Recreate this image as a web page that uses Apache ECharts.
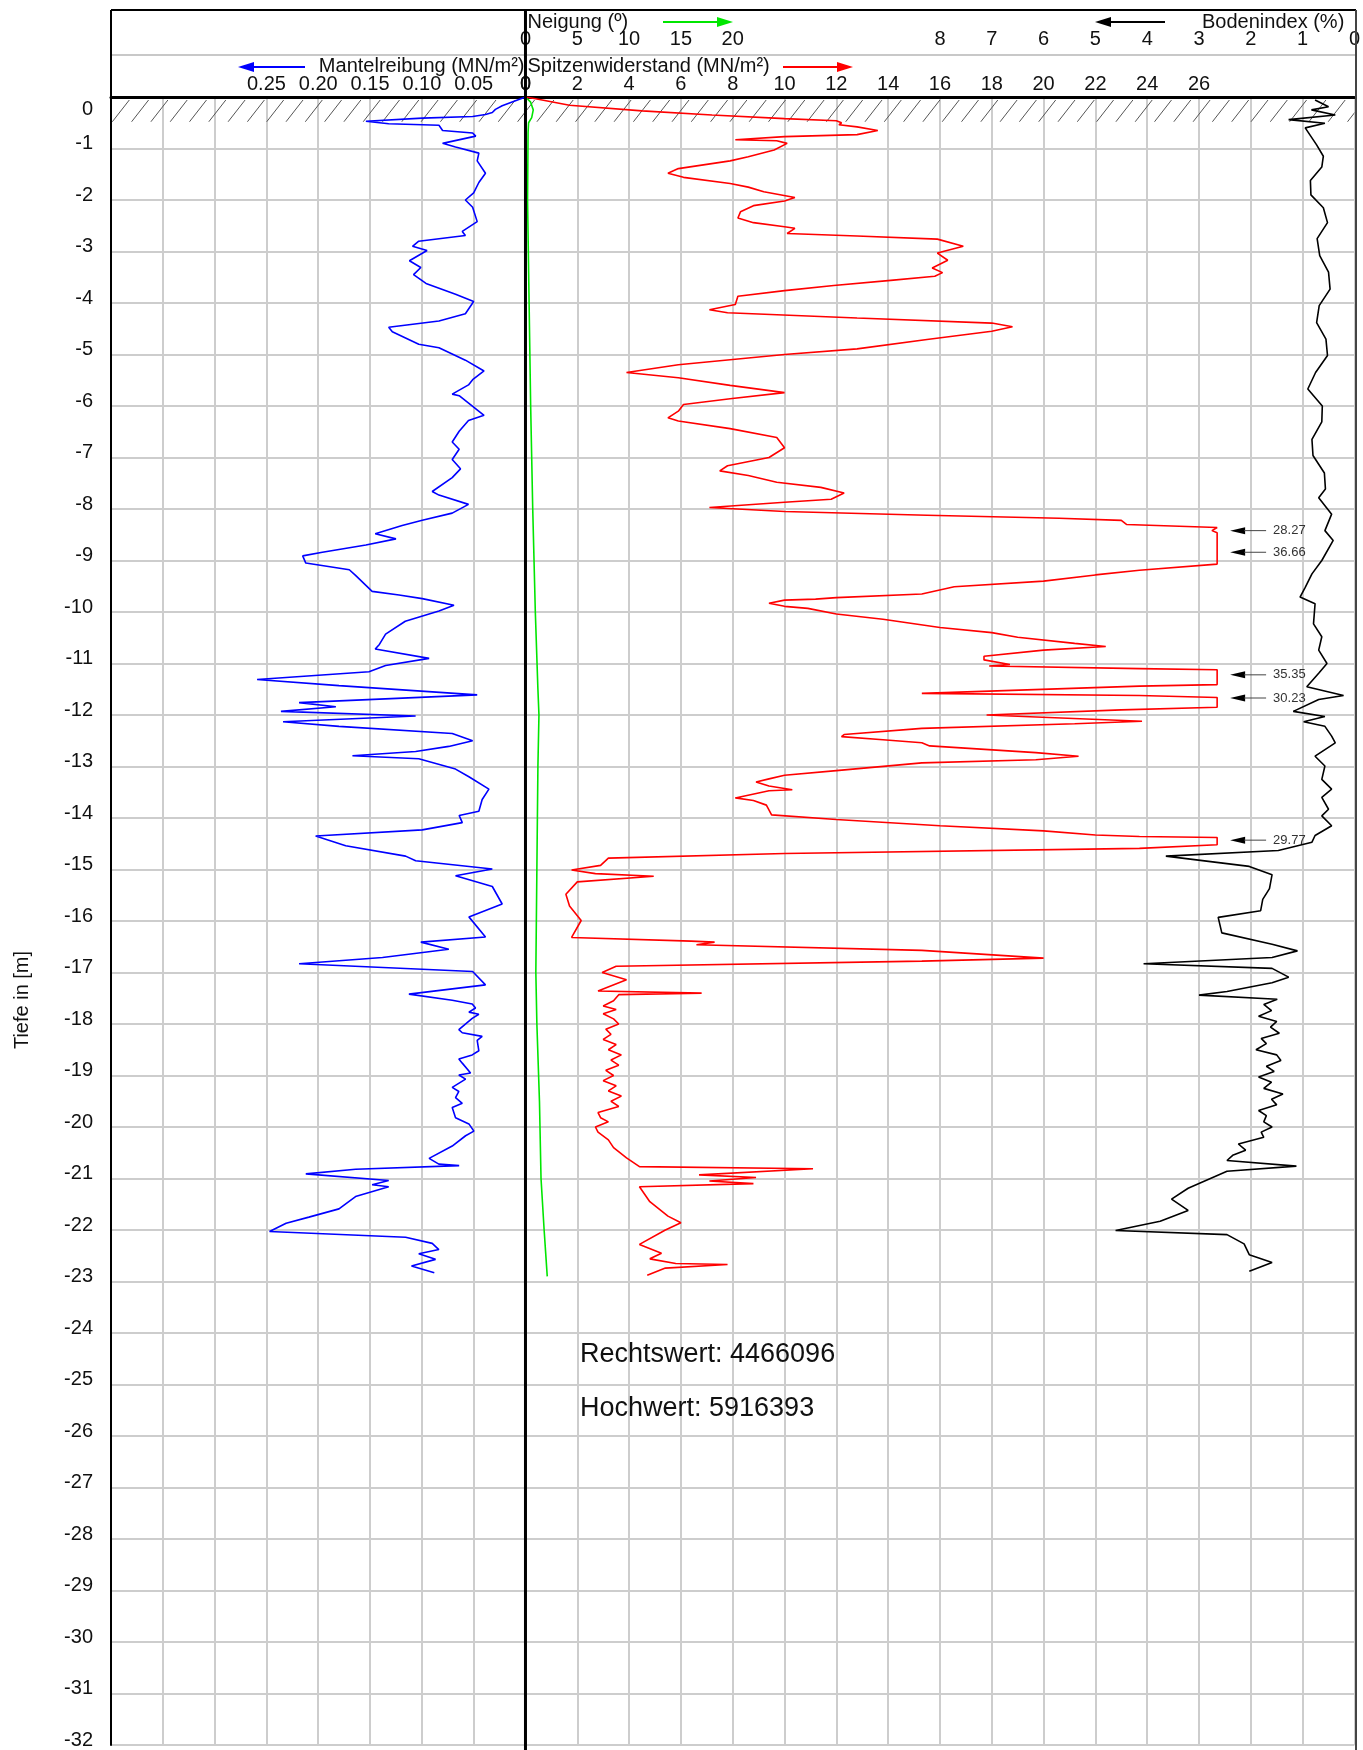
<!DOCTYPE html>
<html><head><meta charset="utf-8">
<script src="https://cdn.jsdelivr.net/npm/echarts@6/dist/echarts.min.js"></script>
<style>html,body{margin:0;padding:0;background:#fff;overflow:hidden}#c{width:1363px;height:1750px}</style>
</head><body><div id="c"></div>
<script>
// ---- data: [depth (m), value] ----
const spitzenwiderstand = [[0,0],[-0.03,0.34],[-0.16,1.7],[-0.27,4.5],[-0.35,7.2],[-0.42,10.0],[-0.46,12.0],[-0.5,12.2],[-0.54,12.1],[-0.58,12.8],[-0.65,13.6],[-0.73,12.8],[-0.77,10.0],[-0.83,8.1],[-0.85,9.7],[-0.9,10.1],[-1.03,9.6],[-1.16,8.6],[-1.24,7.9],[-1.39,5.9],[-1.48,5.5],[-1.56,6.1],[-1.68,7.9],[-1.75,8.6],[-1.84,9.2],[-1.95,10.4],[-2.02,10.0],[-2.11,8.8],[-2.23,8.3],[-2.35,8.2],[-2.44,8.8],[-2.52,10.0],[-2.55,10.4],[-2.65,10.1],[-2.7,12.8],[-2.76,15.9],[-2.9,16.9],[-3.03,15.9],[-3.17,16.3],[-3.32,15.7],[-3.41,16.1],[-3.48,15.8],[-3.56,14.1],[-3.66,11.9],[-3.76,10.0],[-3.87,8.2],[-4.03,8.1],[-4.13,7.1],[-4.19,7.8],[-4.29,12.8],[-4.39,18.0],[-4.46,18.8],[-4.55,18.0],[-4.71,15.5],[-4.89,12.8],[-5.0,10.0],[-5.2,5.9],[-5.35,3.9],[-5.45,5.9],[-5.6,7.9],[-5.74,10.0],[-5.86,7.9],[-5.97,6.1],[-6.1,5.9],[-6.23,5.5],[-6.29,5.9],[-6.44,7.9],[-6.61,9.7],[-6.81,10.0],[-7.0,9.4],[-7.16,7.8],[-7.26,7.5],[-7.35,8.6],[-7.48,9.7],[-7.58,11.4],[-7.69,12.3],[-7.81,11.8],[-7.87,10.0],[-7.97,7.1],[-8.05,10.0],[-8.12,15.5],[-8.18,20.6],[-8.22,23.0],[-8.3,23.2],[-8.36,26.7],[-8.42,26.5],[-8.46,26.7],[-9.07,26.7],[-9.19,23.7],[-9.28,22.0],[-9.4,20.0],[-9.51,16.55],[-9.65,15.3],[-9.72,12.0],[-9.75,11.2],[-9.77,10.0],[-9.83,9.4],[-9.89,10.0],[-9.93,10.9],[-10.04,12.0],[-10.14,13.8],[-10.3,16.0],[-10.4,18.0],[-10.49,19.0],[-10.61,21.2],[-10.67,22.4],[-10.74,20.0],[-10.86,17.7],[-10.93,17.7],[-11.02,18.7],[-11.05,17.9],[-11.1,23.7],[-11.12,26.7],[-11.41,26.7],[-11.44,23.7],[-11.58,15.3],[-11.62,23.7],[-11.66,26.7],[-11.85,26.7],[-11.9,23.0],[-12.0,17.8],[-12.12,23.8],[-12.17,21.2],[-12.26,15.3],[-12.38,12.3],[-12.42,12.2],[-12.48,13.8],[-12.54,15.3],[-12.6,15.6],[-12.73,19.7],[-12.8,21.35],[-12.87,19.7],[-12.93,15.3],[-13.08,12.0],[-13.17,10.0],[-13.24,9.4],[-13.3,8.9],[-13.38,9.4],[-13.45,10.3],[-13.47,9.4],[-13.61,8.1],[-13.66,8.8],[-13.75,9.3],[-13.94,9.5],[-14.03,12.0],[-14.15,16.0],[-14.25,20.0],[-14.33,22.0],[-14.36,23.7],[-14.38,26.7],[-14.52,26.7],[-14.59,23.7],[-14.69,10.0],[-14.78,3.2],[-14.92,2.9],[-15.01,1.78],[-15.08,2.7],[-15.13,4.95],[-15.24,2.0],[-15.48,1.56],[-15.71,1.7],[-15.99,2.15],[-16.32,1.78],[-16.39,6.4],[-16.41,7.3],[-16.46,6.6],[-16.57,15.3],[-16.72,20.0],[-16.78,15.3],[-16.88,3.5],[-17.0,2.96],[-17.14,3.9],[-17.36,2.8],[-17.4,6.8],[-17.43,3.6],[-17.55,3.4],[-17.65,3.0],[-17.72,3.5],[-17.8,3.0],[-17.9,3.4],[-18.0,3.6],[-18.1,3.1],[-18.2,3.3],[-18.3,3.0],[-18.4,3.5],[-18.5,3.2],[-18.6,3.7],[-18.7,3.3],[-18.8,3.6],[-18.9,3.1],[-19.0,3.4],[-19.1,3.0],[-19.2,3.5],[-19.3,3.2],[-19.4,3.7],[-19.5,3.3],[-19.6,3.6],[-19.72,2.8],[-19.82,2.9],[-19.9,3.2],[-20.0,2.7],[-20.1,2.8],[-20.25,3.2],[-20.4,3.4],[-20.6,3.9],[-20.77,4.4],[-20.81,11.1],[-20.93,6.7],[-20.98,8.9],[-21.05,7.1],[-21.1,8.8],[-21.16,4.4],[-21.45,4.8],[-21.73,5.5],[-21.86,6.0],[-22.0,5.4],[-22.28,4.4],[-22.45,5.25],[-22.56,4.8],[-22.65,5.8],[-22.67,7.8],[-22.74,5.4],[-22.88,4.7]];

const mantelreibung = [[0,0],[-0.17,0.0225],[-0.24,0.029],[-0.3,0.032],[-0.34,0.0386],[-0.38,0.051],[-0.41,0.0996],[-0.47,0.154],[-0.52,0.132],[-0.55,0.0835],[-0.65,0.08],[-0.7,0.051],[-0.76,0.048],[-0.9,0.08],[-0.97,0.0675],[-1.09,0.045],[-1.24,0.0466],[-1.48,0.0386],[-1.66,0.045],[-1.86,0.05],[-2.0,0.058],[-2.14,0.051],[-2.42,0.0466],[-2.61,0.061],[-2.69,0.058],[-2.8,0.103],[-2.9,0.109],[-2.98,0.095],[-3.18,0.112],[-3.31,0.101],[-3.45,0.108],[-3.62,0.096],[-3.83,0.0675],[-3.97,0.05],[-4.21,0.058],[-4.35,0.0835],[-4.47,0.132],[-4.56,0.1285],[-4.8,0.103],[-4.87,0.0835],[-5.11,0.058],[-5.32,0.04],[-5.49,0.051],[-5.59,0.055],[-5.77,0.0707],[-5.8,0.064],[-6.18,0.04],[-6.28,0.055],[-6.49,0.064],[-6.7,0.0707],[-6.84,0.064],[-7.04,0.0707],[-7.22,0.0627],[-7.39,0.0707],[-7.66,0.09],[-7.73,0.0835],[-7.91,0.055],[-8.08,0.0707],[-8.22,0.0996],[-8.32,0.119],[-8.48,0.145],[-8.58,0.125],[-8.7,0.154],[-8.84,0.196],[-8.91,0.215],[-9.05,0.212],[-9.18,0.17],[-9.29,0.164],[-9.6,0.148],[-9.67,0.122],[-9.74,0.0996],[-9.87,0.069],[-9.98,0.0835],[-10.18,0.116],[-10.43,0.135],[-10.63,0.141],[-10.72,0.145],[-10.9,0.093],[-11.04,0.135],[-11.16,0.151],[-11.31,0.259],[-11.43,0.18],[-11.61,0.0466],[-11.76,0.2185],[-11.84,0.183],[-11.93,0.236],[-12.02,0.106],[-12.13,0.234],[-12.22,0.18],[-12.36,0.0707],[-12.5,0.051],[-12.61,0.074],[-12.71,0.106],[-12.79,0.167],[-12.85,0.103],[-13.05,0.0675],[-13.2,0.0546],[-13.44,0.0353],[-13.64,0.0418],[-13.87,0.045],[-13.95,0.064],[-14.09,0.061],[-14.23,0.0996],[-14.35,0.2025],[-14.54,0.1735],[-14.74,0.1157],[-14.83,0.106],[-14.99,0.032],[-15.12,0.0675],[-15.33,0.032],[-15.67,0.0225],[-15.92,0.0546],[-16.31,0.0386],[-16.41,0.101],[-16.55,0.074],[-16.71,0.138],[-16.83,0.2185],[-16.98,0.051],[-17.24,0.0386],[-17.42,0.1125],[-17.54,0.0707],[-17.61,0.0514],[-17.69,0.0482],[-17.77,0.0546],[-17.81,0.045],[-17.89,0.0514],[-18.11,0.0643],[-18.17,0.061],[-18.24,0.0418],[-18.32,0.0466],[-18.52,0.045],[-18.6,0.0514],[-18.68,0.0643],[-18.76,0.061],[-18.95,0.053],[-18.99,0.0643],[-19.07,0.0578],[-19.23,0.0707],[-19.31,0.0643],[-19.43,0.0675],[-19.54,0.061],[-19.62,0.0707],[-19.82,0.0675],[-19.94,0.0546],[-20.08,0.0498],[-20.17,0.0578],[-20.37,0.0707],[-20.61,0.093],[-20.72,0.0836],[-20.75,0.064],[-20.82,0.164],[-20.91,0.212],[-21.04,0.132],[-21.12,0.148],[-21.16,0.132],[-21.35,0.164],[-21.59,0.18],[-21.75,0.209],[-21.87,0.231],[-22.03,0.247],[-22.14,0.1157],[-22.26,0.09],[-22.38,0.0836],[-22.46,0.103],[-22.57,0.0868],[-22.7,0.11],[-22.83,0.088]];

const neigung = [[0,0],[-0.1,0.5],[-0.25,0.75],[-0.4,0.6],[-0.5,0.3],[-0.7,0.25],[-2,0.2],[-4,0.35],[-6,0.5],[-8,0.7],[-10,0.95],[-11.5,1.2],[-12,1.3],[-13,1.2],[-15,1.1],[-17,1.0],[-18,1.1],[-19.5,1.35],[-21,1.5],[-22,1.8],[-22.9,2.1]];

const bodenindex = [[-0.06,0.76],[-0.19,0.5],[-0.25,0.83],[-0.35,0.37],[-0.44,1.27],[-0.51,0.57],[-0.6,0.95],[-0.93,0.73],[-1.15,0.6],[-1.36,0.63],[-1.62,0.85],[-1.9,0.84],[-2.15,0.6],[-2.44,0.52],[-2.75,0.72],[-3.08,0.67],[-3.4,0.5],[-3.73,0.47],[-4.05,0.68],[-4.38,0.73],[-4.7,0.55],[-5.02,0.52],[-5.35,0.75],[-5.67,0.9],[-6.0,0.62],[-6.31,0.63],[-6.65,0.82],[-6.96,0.8],[-7.3,0.58],[-7.61,0.56],[-7.78,0.69],[-8.1,0.44],[-8.42,0.57],[-8.61,0.41],[-9.0,0.63],[-9.26,0.82],[-9.52,0.95],[-9.71,1.05],[-9.84,0.76],[-10.23,0.79],[-10.48,0.63],[-10.74,0.69],[-11.0,0.53],[-11.19,0.69],[-11.45,0.92],[-11.62,0.21],[-11.7,0.69],[-11.93,1.18],[-12.03,0.57],[-12.13,0.98],[-12.22,0.57],[-12.41,0.44],[-12.54,0.37],[-12.8,0.76],[-12.99,0.57],[-13.25,0.63],[-13.44,0.44],[-13.6,0.63],[-13.83,0.5],[-13.96,0.63],[-14.15,0.44],[-14.34,0.76],[-14.47,0.82],[-14.63,1.47],[-14.74,3.64],[-14.94,2.03],[-15.1,1.59],[-15.37,1.64],[-15.58,1.77],[-15.8,1.81],[-15.93,2.63],[-16.23,2.56],[-16.45,1.59],[-16.58,1.1],[-16.71,1.59],[-16.83,4.07],[-16.92,1.59],[-17.09,1.27],[-17.2,1.59],[-17.37,2.46],[-17.44,3.0],[-17.52,1.49],[-17.62,1.75],[-17.74,1.6],[-17.85,1.85],[-17.95,1.5],[-18.06,1.62],[-18.18,1.45],[-18.28,1.8],[-18.38,1.7],[-18.5,1.9],[-18.6,1.5],[-18.71,1.42],[-18.82,1.7],[-18.92,1.55],[-19.03,1.85],[-19.13,1.6],[-19.25,1.75],[-19.36,1.38],[-19.46,1.6],[-19.57,1.5],[-19.68,1.85],[-19.78,1.7],[-19.9,1.75],[-20.0,1.59],[-20.1,1.8],[-20.2,1.75],[-20.33,2.24],[-20.45,2.1],[-20.55,2.35],[-20.65,2.46],[-20.76,1.12],[-20.86,2.46],[-21.19,3.21],[-21.4,3.53],[-21.62,3.21],[-21.83,3.75],[-22.01,4.61],[-22.09,2.46],[-22.27,2.13],[-22.48,2.03],[-22.63,1.59],[-22.8,2.03]];

// values beyond the qc axis limit (annotated)
const overDepth = [-8.42, -8.84, -11.22, -11.67, -14.43];
const overLabel = ['28.27', '36.66', '35.35', '30.23', '29.77'];
const overArrowQc = 27.2;

const hatchBand = [0, -0.5];
const qcTickMax = 26, fsTickMax = 0.25, neigungTickMax = 20, bodenTickMax = 8;
const coordTexts = ['Rechtswert: 4466096', 'Hochwert: 5916393'];

// ---- layout ----
const FONT = 'Liberation Sans, Arial, sans-serif';
const G = {left: 111, top: 97, width: 1245, height: 1658};
const swap = arr => arr.map(p => [p[1], p[0]]);

const chart = echarts.init(document.getElementById('c'), null, {renderer: 'canvas'});
const lblBase = {fontSize: 20, color: '#111', fontFamily: FONT};

const option = {
  animation: false,
  backgroundColor: '#fff',
  grid: {left: G.left, top: G.top, width: G.width, height: G.height},
  yAxis: {
    type: 'value', min: -32, max: 0, interval: 1,
    axisLine: {show: true, onZero: false, lineStyle: {color: '#000', width: 2}},
    axisTick: {show: false},
    splitLine: {show: true, lineStyle: {color: '#cdcdcd', width: 2}},
    axisLabel: Object.assign({}, lblBase, {
      margin: 18,
      formatter: v => v === 0 ? '{z|0}' : '{n|' + v + '}',
      rich: {z: Object.assign({padding: [24, 0, 0, 0]}, lblBase), n: Object.assign({padding: [0, 0, 10, 0]}, lblBase)}
    })
  },
  xAxis: [
    { // Spitzenwiderstand
      type: 'value', position: 'top', min: -16, max: 32, interval: 2,
      axisLine: {show: true, onZero: false, lineStyle: {color: '#000', width: 3}},
      axisTick: {show: false},
      splitLine: {show: true, lineStyle: {color: '#cdcdcd', width: 2}},
      axisLabel: Object.assign({}, lblBase, {margin: 3, showMinLabel: true, showMaxLabel: true,
        formatter: v => (v >= 0 && v <= qcTickMax) ? String(v) : ''})
    },
    { // Mantelreibung
      type: 'value', position: 'top', min: -0.8, max: 0.4, interval: 0.05, inverse: true,
      axisLine: {show: false, onZero: false}, axisTick: {show: false}, splitLine: {show: false},
      axisLabel: Object.assign({}, lblBase, {margin: 3,
        formatter: v => (v > -1e-9 && v < fsTickMax + 1e-9) ? (Math.abs(v) < 1e-9 ? '0' : v.toFixed(2)) : ''})
    },
    { // Neigung
      type: 'value', position: 'top', min: -40, max: 80, interval: 5, offset: 45,
      axisLine: {show: false, onZero: false}, axisTick: {show: false}, splitLine: {show: false},
      axisLabel: Object.assign({}, lblBase, {margin: 3,
        formatter: v => (v >= 0 && v <= neigungTickMax) ? String(v) : ''})
    },
    { // Bodenindex
      type: 'value', position: 'top', min: 0, max: 24, interval: 1, inverse: true, offset: 45,
      axisLine: {show: false, onZero: false}, axisTick: {show: false}, splitLine: {show: false},
      axisLabel: Object.assign({}, lblBase, {margin: 3, showMinLabel: true,
        formatter: v => (v >= 0 && v <= bodenTickMax) ? String(v) : ''})
    }
  ],
  series: [
    {
      type: 'custom', xAxisIndex: 0, yAxisIndex: 0, z: 1, clip: true,
      data: [hatchBand],
      renderItem: (params, api) => {
        const cs = params.coordSys;
        const yTop = api.coord([0, api.value(0)])[1];
        const yBot = api.coord([0, api.value(1)])[1];
        const children = [];
        for (let x = cs.x - 18; x < cs.x + cs.width; x += 19.3) {
          children.push({type: 'line', shape: {x1: x, y1: yBot - 1, x2: x + 17, y2: yTop + 3},
            style: {stroke: '#555', lineWidth: 1}});
        }
        return {type: 'group', children,
          clipPath: {type: 'rect', shape: {x: cs.x, y: cs.y, width: cs.width, height: cs.height}}};
      }
    },
    {type: 'line', xAxisIndex: 2, yAxisIndex: 0, data: swap(neigung), symbol: 'none',
      lineStyle: {color: '#00e600', width: 1.6}, z: 3},
    {type: 'line', xAxisIndex: 1, yAxisIndex: 0, data: swap(mantelreibung), symbol: 'none',
      lineStyle: {color: '#0000ff', width: 1.6}, z: 3},
    {type: 'line', xAxisIndex: 0, yAxisIndex: 0, data: swap(spitzenwiderstand), symbol: 'none',
      lineStyle: {color: '#ff0000', width: 1.6}, z: 3},
    {type: 'line', xAxisIndex: 3, yAxisIndex: 0, data: swap(bodenindex), symbol: 'none',
      lineStyle: {color: '#000', width: 1.6}, z: 3},
    {
      type: 'custom', xAxisIndex: 0, yAxisIndex: 0, z: 4,
      data: overDepth.map(d => [overArrowQc, d]),
      renderItem: (params, api) => {
        const p = api.coord([api.value(0), api.value(1)]);
        const x = p[0], y = p[1];
        return {type: 'group', children: [
          {type: 'polygon', shape: {points: [[x, y], [x + 15, y - 3.5], [x + 15, y + 3.5]]}, style: {fill: '#000'}},
          {type: 'line', shape: {x1: x + 14, y1: y, x2: x + 36, y2: y}, style: {stroke: '#444', lineWidth: 1}},
          {type: 'text', x: x + 43, y: y, style: {text: overLabel[params.dataIndex], fontSize: 13, fontFamily: FONT,
            fill: '#333', align: 'left', verticalAlign: 'middle'}}
        ]};
      }
    }
  ]
};
chart.setOption(option);

// frame, header titles and arrows
const x0 = chart.convertToPixel({xAxisIndex: 0}, 0);
const R = G.left + G.width, T = 10;
function arrow(x1, x2, y, color) {
  const dir = Math.sign(x2 - x1);
  return [
    {type: 'line', shape: {x1, y1: y, x2: x2 - dir * 12, y2: y}, style: {stroke: color, lineWidth: 2}, z: 10},
    {type: 'polygon', shape: {points: [[x2, y], [x2 - dir * 16, y - 5], [x2 - dir * 16, y + 5]]}, style: {fill: color}, z: 10}
  ];
}
function txt(x, y, text, size, align, extra) {
  return Object.assign({type: 'text', x, y, z: 10,
    style: {text, fontSize: size, fontFamily: FONT, fill: '#111', align, verticalAlign: 'middle'}}, extra || {});
}
const gfx = [
  {type: 'line', shape: {x1: G.left, y1: T, x2: R, y2: T}, style: {stroke: '#000', lineWidth: 2}, z: 10},
  {type: 'line', shape: {x1: G.left, y1: 55, x2: R, y2: 55}, style: {stroke: '#c8c8c8', lineWidth: 2}, z: 10},
  {type: 'line', shape: {x1: G.left, y1: T, x2: G.left, y2: G.top}, style: {stroke: '#000', lineWidth: 2}, z: 10},
  {type: 'line', shape: {x1: R, y1: T, x2: R, y2: 1750}, style: {stroke: '#444', lineWidth: 2}, z: 10},
  {type: 'line', shape: {x1: x0, y1: T, x2: x0, y2: 1750}, style: {stroke: '#000', lineWidth: 3}, z: 10},
  txt(x0 + 2, 22, 'Neigung (º)', 20, 'left'),
  txt(x0 + 2, 66, 'Spitzenwiderstand (MN/m²)', 20, 'left'),
  txt(x0 - 1, 66, 'Mantelreibung (MN/m²)', 20, 'right'),
  txt(1202, 22, 'Bodenindex (%)', 20, 'left'),
  txt(22, 1000, 'Tiefe in [m]', 20, 'center', {rotation: Math.PI / 2}),
  txt(580, 1355, coordTexts[0], 27, 'left'),
  txt(580, 1409, coordTexts[1], 27, 'left')
].concat(arrow(663, 733, 22, '#00e600'), arrow(783, 853, 67, '#ff0000'),
         arrow(305, 238, 67, '#0000ff'), arrow(1165, 1095, 22, '#000'));
chart.setOption({graphic: gfx});
</script></body></html>
